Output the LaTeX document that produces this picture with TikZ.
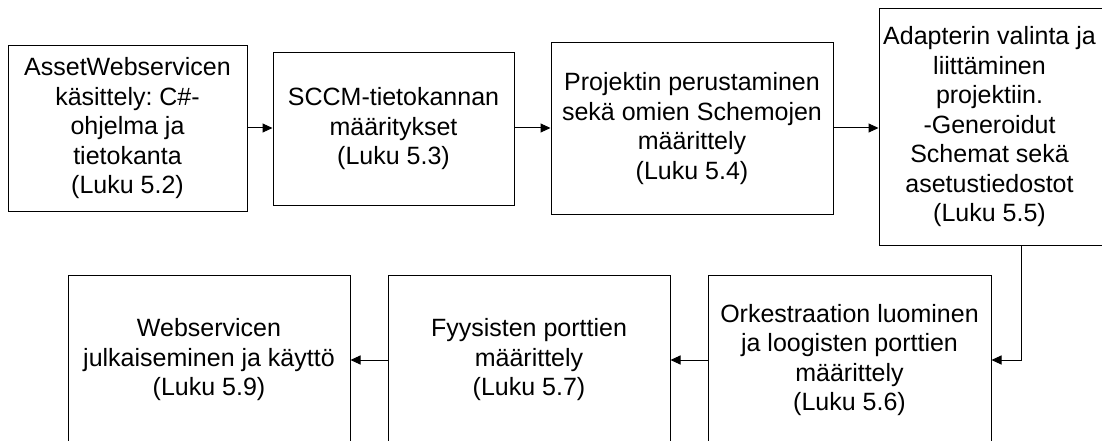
\documentclass[tikz,border=0pt]{standalone}
\usepackage{fontspec}
\setmainfont{Liberation Sans}
\frenchspacing
\usetikzlibrary{arrows.meta}
\begin{document}
\begin{tikzpicture}[x=1pt,y=-1pt,
  boxnode/.style={draw=black,line width=1pt,inner sep=0pt,align=center,
    font=\fontsize{25}{29.5}\selectfont},
  txt/.style={inner sep=0pt,align=center,font=\fontsize{25}{29.5}\selectfont},
  arr/.style={draw=black,line width=1pt,-{Triangle[length=10pt,width=9pt]}}]
\useasboundingbox (0,0) rectangle (1102,441);
\clip (0,0) rectangle (1102,441);
\node[boxnode,minimum width=239pt,minimum height=165pt] (b1) at (127.5,128.5)
  {AssetWebservicen\\käsittely: C\#-\\ohjelma ja\\tietokanta\\(Luku 5.2)};
\node[boxnode,minimum width=241pt,minimum height=152pt] (b2) at (393.5,129)
  {SCCM-tietokannan\\määritykset\\(Luku 5.3)};
\node[boxnode,minimum width=282pt,minimum height=171pt] (b3) at (692,128.5)
  {Projektin perustaminen\\sekä omien Schemojen\\määrittely\\(Luku 5.4)};
\node[draw=black,line width=1pt,inner sep=0pt,minimum width=225pt,minimum height=236pt] (b4) at (991.5,127) {};
\node[txt] (b4t) at (989.5,127)
  {Adapterin valinta ja\\liittäminen\\projektiin.\\-Generoidut\\Schemat sekä\\asetustiedostot\\(Luku 5.5)};
\node[boxnode,minimum width=283pt,minimum height=170pt] (b5) at (849.5,360)
  {Orkestraation luominen\\ja loogisten porttien\\määrittely\\(Luku 5.6)};
\node[boxnode,minimum width=282pt,minimum height=170pt] (b6) at (529,360)
  {Fyysisten porttien\\määrittely\\(Luku 5.7)};
\node[boxnode,minimum width=282pt,minimum height=170pt] (b7) at (209,360)
  {Webservicen\\julkaiseminen ja käyttö\\(Luku 5.9)};
\coordinate (k) at (1021,0);
\draw[arr] (b1.east |- 0,128) -- (b2.west |- 0,128);
\draw[arr] (b2.east |- 0,128) -- (b3.west |- 0,128);
\draw[arr] (b3.east |- 0,128) -- (b4.west |- 0,128);
\draw[arr] (b4.south -| k) |- (b5.east);
\draw[arr] (b5.west) -- (b6.east);
\draw[arr] (b6.west) -- (b7.east);
\end{tikzpicture}
\end{document}
